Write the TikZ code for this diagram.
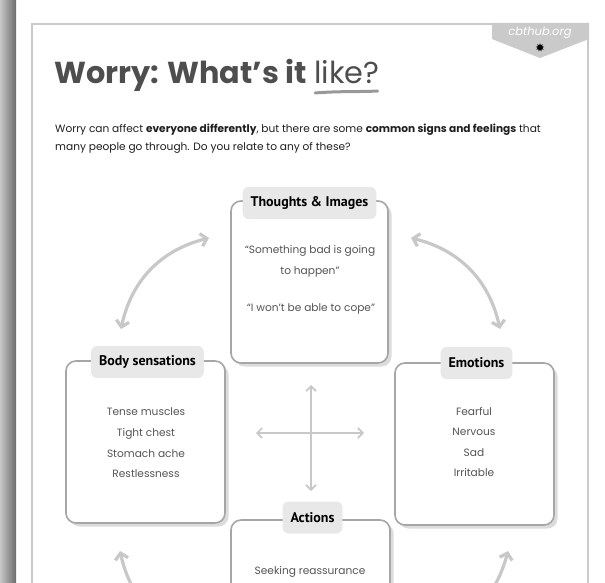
\documentclass[tikz,border=0pt]{standalone}
\usepackage{fontspec}
\setmainfont{Poppins}
\newfontfamily\titlefont{Poppins}
\newfontfamily\headfont{PT Sans}
\usetikzlibrary{arrows.meta,shapes.geometric,shadows}
\definecolor{bordergray}{HTML}{A6A6A6}
\definecolor{shadowgray}{HTML}{DCDCDC}
\definecolor{tabgray}{HTML}{E8E8E8}
\definecolor{arrowgray}{HTML}{C8C8C8}
\definecolor{titlegray}{HTML}{4E4E4E}
\definecolor{itemgray}{HTML}{555555}
\definecolor{pagegray}{HTML}{CACACA}
\tikzset{
  card/.style={draw=bordergray, line width=1.6pt, rounded corners=10pt, fill=white,
    drop shadow={shadow xshift=3.5pt, shadow yshift=-3.5pt, fill=shadowgray, opacity=1},
    inner sep=0pt},
  tab/.style={fill=tabgray, rounded corners=6pt, minimum height=32pt, inner xsep=8pt,
    font=\headfont\bfseries\fontsize{14}{15}\selectfont, text=black},
  items/.style={align=center, text=itemgray, font=\fontsize{10.6}{20.6}\selectfont},
  curvearrow/.style={draw=arrowgray, line width=3.2pt,
    {Straight Barb[length=6pt,width=13pt]}-{Straight Barb[length=6pt,width=13pt]}},
  crossarrow/.style={draw=arrowgray, line width=1.6pt,
    {Straight Barb[length=5pt,width=10pt]}-{Straight Barb[length=5pt,width=10pt]}},
  para/.style={anchor=base west, inner sep=0pt, text=black!88, font=\fontsize{10.6}{13}\selectfont}
}
\begin{document}
\begin{tikzpicture}[x=1pt,y=-1pt]
\useasboundingbox (0,0) rectangle (605,583);
\clip (0,0) rectangle (605,583);
\fill[white] (0,0) rectangle (605,583);
% page shadow on the left
\shade[left color=black!22, right color=black!58] (0,0) rectangle (16,583);
% page border
\draw[pagegray, line width=2pt] (32,584) -- (32,24) -- (588,24) -- (588,584);
% badge
\fill[pagegray] (492,23) -- (589,23) -- (589,39) -- (540,58) -- (492,39) -- cycle;
\node[text=white, font=\itshape\fontsize{11.5}{13}\selectfont, inner sep=0pt] (badge) at (540,33) {cbthub.org};
\node[star, star points=9, star point ratio=1.8, fill=black, minimum size=8.5pt, inner sep=0pt] (splat) at (540,47.5) {};
% title
\node[anchor=base west, inner sep=0pt, text=titlegray, font=\titlefont\bfseries\fontsize{30.3}{34}\selectfont] (title) at (54,84) {Worry: What’s it};
\node[anchor=base west, inner sep=0pt, text=titlegray, font=\titlefont\fontsize{30.3}{34}\selectfont] (like) at ([xshift=7pt]title.base east) {like?};
\draw[black!40, line width=3pt, line cap=round] ([xshift=1pt,yshift=-9pt]like.base west) .. controls ([xshift=25pt,yshift=-7pt]like.base west) and ([xshift=-20pt,yshift=-8pt]like.base east) .. ([xshift=-2pt,yshift=-7pt]like.base east);
% paragraph
\node[para] (p1) at (55,133) {Worry can affect \textbf{everyone differently}, but there are some \textbf{common signs and feelings} that};
\node[para] (p2) at (55,150) {many people go through. Do you relate to any of these?};
% cards
\node[card, minimum width=157pt, minimum height=162pt] (thoughts) at (309.5,282) {};
\node[card, minimum width=159pt, minimum height=162pt] (body) at (145.5,442) {};
\node[card, minimum width=159pt, minimum height=162pt] (emotions) at (474.5,444) {};
\node[card, minimum width=159pt, minimum height=162pt] (actions) at (310.5,601) {};
% tabs
\node[tab] (thoughtstab) at (309.5,203) {Thoughts \& Images};
\node[tab] (bodytab) at (147.5,362) {Body sensations};
\node[tab] (emotionstab) at (476.5,363) {Emotions};
\node[tab] (actionstab) at (312.5,517.5) {Actions};
% contents
\node[items] (thoughts1) at (310,261.5) {“Something bad is going\\to happen”};
\node[items] (thoughts2) at (311,309) {“I won’t be able to cope”};
\node[items] (bodyitems) at (146,443) {Tense muscles\\Tight chest\\Stomach ache\\Restlessness};
\node[items] (emotionitems) at (474,442) {Fearful\\Nervous\\Sad\\Irritable};
\node[items] (actionitems) at (310,572) {Seeking reassurance};
% cross arrows
\coordinate (vt) at (311,385);
\coordinate (vb) at (311,491);
\coordinate (hl) at (256,433);
\coordinate (hr) at (364,433);
\draw[crossarrow] (vt) -- (vb);
\draw[crossarrow] (hl) -- (hr);
% curved arrows
\coordinate (tlA) at (121,329);
\coordinate (tlB) at (209,238);
\coordinate (trA) at (411,238);
\coordinate (trB) at (500,329);
\coordinate (blA) at (120,551);
\coordinate (blB) at (209,642);
\coordinate (brA) at (508,551);
\coordinate (brB) at (411,642);
\draw[curvearrow] (tlA) to[bend left=32] (tlB);
\draw[curvearrow] (trA) to[bend left=32] (trB);
\draw[curvearrow] (blA) to[bend right=32] (blB);
\draw[curvearrow] (brA) to[bend left=32] (brB);
\end{tikzpicture}
\end{document}
